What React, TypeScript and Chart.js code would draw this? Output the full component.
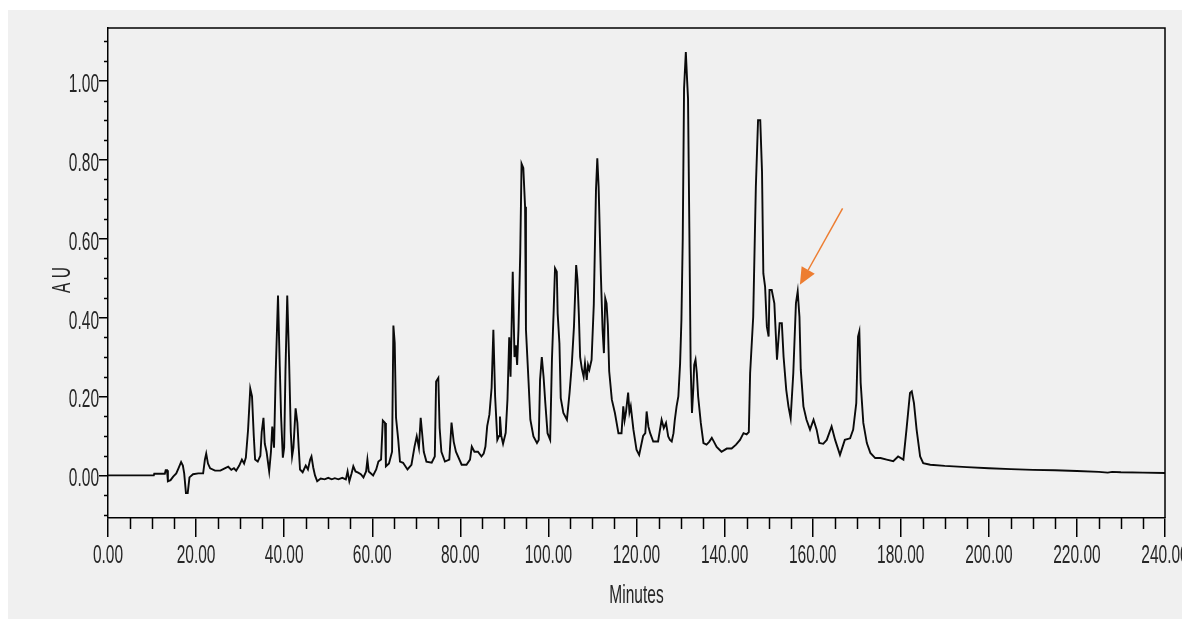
import React, { useEffect, useRef } from "react";
import { Chart, registerables } from "chart.js";

Chart.register(...registerables);

// Retention time (minutes)
const times = [
  0, 10.4, 10.5, 12.9, 13.1, 13.4, 13.6, 14.2, 14.8, 15.5, 16.0, 16.6, 17.0, 17.3, 17.7, 18.1, 18.5, 19.3, 20.5, 21.6,
  22.0, 22.3, 22.7, 23.2, 24.3, 25.5, 26.5, 27.3, 28.0, 28.6, 29.1, 29.8, 30.4, 30.9, 31.3, 31.8, 32.3, 32.7, 33.1, 33.4,
  34.0, 34.6, 34.9, 35.3, 35.6, 36.0, 36.6, 37.0, 37.3, 37.7, 38.1, 38.6, 39.0, 39.3, 39.7, 40.0, 40.3, 40.7, 41.1, 41.5,
  41.8, 42.1, 42.6, 43.0, 43.3, 43.6, 44.2, 44.9, 45.4, 45.9, 46.2, 46.6, 47.0, 47.5, 48.3, 49.2, 50.0, 50.8, 51.5, 52.3,
  53.2, 54.0, 54.4, 54.8, 55.3, 55.7, 56.2, 56.8, 57.4, 58.0, 58.6, 58.9, 59.2, 60.2, 60.9, 61.4, 62.0, 62.4, 62.9, 63.1,
  63.8, 64.5, 64.8, 65.1, 65.4, 65.9, 66.3, 67.0, 68.0, 68.9, 69.6, 70.1, 70.6, 71.0, 71.3, 71.7, 72.3, 73.5, 74.2, 74.5,
  75.0, 75.3, 75.7, 76.5, 77.5, 78.0, 78.5, 79.0, 80.3, 81.4, 82.2, 82.6, 83.2, 84.0, 84.8, 85.3, 85.7, 86.1, 86.6, 87.1,
  87.5, 87.9, 88.4, 88.8, 89.0, 89.3, 89.7, 90.3, 90.7, 91.1, 91.4, 91.9, 92.3, 92.6, 92.9, 93.2, 93.6, 93.9, 94.3, 94.7,
  94.9, 95.5, 95.9, 96.6, 97.4, 97.8, 98.1, 98.5, 98.9, 99.3, 99.8, 100.4, 100.8, 101.2, 101.5, 101.9, 102.1, 102.5, 102.8, 103.4,
  104.2, 104.8, 105.3, 105.8, 106.3, 106.6, 106.9, 107.2, 107.6, 108.0, 108.3, 108.7, 109.0, 109.3, 109.8, 110.3, 110.8, 111.1, 111.4, 111.9,
  112.3, 112.6, 112.9, 113.2, 113.5, 113.8, 114.4, 115.1, 115.9, 116.6, 117.0, 117.3, 117.6, 118.1, 118.4, 118.7, 119.3, 120.0, 120.6, 121.5,
  122.0, 122.3, 122.7, 123.1, 123.8, 124.9, 125.7, 126.2, 126.7, 127.2, 127.6, 128.0, 128.4, 128.7, 129.1, 129.5, 129.9, 130.2, 130.5, 130.8,
  131.2, 131.5, 131.7, 132.0, 132.3, 132.6, 132.9, 133.1, 133.4, 133.7, 134.0, 134.6, 135.2, 135.9, 136.5, 137.1, 137.6, 138.2, 139.3, 140.5,
  141.6, 142.6, 143.5, 144.3, 145.0, 145.5, 145.8, 146.5, 147.1, 147.6, 148.1, 148.5, 148.8, 149.2, 149.6, 150.0, 150.2, 150.7, 151.3, 151.9,
  152.5, 153.0, 153.4, 154.0, 154.5, 155.0, 155.6, 156.2, 156.6, 157.0, 157.3, 157.9, 158.6, 159.4, 160.2, 160.9, 161.5, 162.4, 163.2, 164.3,
  165.1, 166.2, 167.3, 168.5, 169.2, 169.9, 170.3, 170.6, 170.9, 171.5, 172.3, 173.1, 174.2, 175.4, 176.8, 178.3, 179.4, 180.6, 181.3, 182.1,
  182.5, 183.0, 183.6, 184.4, 185.1, 186.7, 190, 195, 200, 205, 210, 215, 220, 225, 227, 228, 230, 235, 240,
];

// Absorbance (AU)
const absorbance = [
  0, 0, 0.004, 0.004, 0.013, 0.013, -0.015, -0.012, -0.003, 0.005, 0.018, 0.034, 0.025, 0.005, -0.045, -0.045, -0.005, 0.003, 0.005, 0.005,
  0.04, 0.055, 0.03, 0.018, 0.012, 0.012, 0.018, 0.022, 0.014, 0.018, 0.012, 0.025, 0.04, 0.03, 0.045, 0.115, 0.22, 0.2, 0.1, 0.04,
  0.035, 0.05, 0.11, 0.146, 0.08, 0.06, 0.01, 0.06, 0.124, 0.07, 0.27, 0.456, 0.276, 0.15, 0.045, 0.07, 0.267, 0.456, 0.3, 0.11,
  0.048, 0.07, 0.17, 0.133, 0.07, 0.015, 0.008, 0.025, 0.015, 0.04, 0.048, 0.02, 0.0, -0.015, -0.008, -0.01, -0.006, -0.01, -0.007, -0.01,
  -0.006, -0.01, 0.01, -0.015, 0.005, 0.023, 0.01, 0.007, 0.003, -0.005, 0.01, 0.04, 0.01, 0.0, 0.015, 0.035, 0.04, 0.139, 0.133, 0.023,
  0.03, 0.06, 0.38, 0.336, 0.146, 0.09, 0.035, 0.032, 0.015, 0.027, 0.073, 0.099, 0.07, 0.146, 0.11, 0.06, 0.035, 0.032, 0.048, 0.238,
  0.247, 0.12, 0.06, 0.035, 0.04, 0.134, 0.085, 0.06, 0.027, 0.027, 0.04, 0.073, 0.06, 0.06, 0.048, 0.055, 0.073, 0.125, 0.154, 0.222,
  0.369, 0.2, 0.09, 0.1, 0.149, 0.1, 0.08, 0.108, 0.192, 0.35, 0.25, 0.516, 0.3, 0.33, 0.28, 0.369, 0.563, 0.79, 0.779, 0.681,
  0.369, 0.235, 0.141, 0.099, 0.082, 0.09, 0.242, 0.3, 0.25, 0.183, 0.107, 0.09, 0.293, 0.42, 0.525, 0.516, 0.41, 0.335, 0.196, 0.158,
  0.141, 0.209, 0.28, 0.377, 0.533, 0.495, 0.41, 0.3, 0.27, 0.25, 0.284, 0.242, 0.28, 0.268, 0.293, 0.432, 0.723, 0.804, 0.732, 0.512,
  0.369, 0.31, 0.449, 0.436, 0.38, 0.264, 0.192, 0.158, 0.107, 0.107, 0.175, 0.14, 0.16, 0.21, 0.16, 0.175, 0.116, 0.065, 0.052, 0.1,
  0.107, 0.162, 0.124, 0.107, 0.086, 0.086, 0.141, 0.12, 0.133, 0.099, 0.09, 0.086, 0.107, 0.141, 0.175, 0.2, 0.284, 0.394, 0.6, 0.981,
  1.073, 1.0, 0.955, 0.626, 0.276, 0.158, 0.22, 0.28, 0.293, 0.259, 0.2, 0.133, 0.082, 0.078, 0.085, 0.095, 0.085, 0.072, 0.06, 0.068,
  0.068, 0.078, 0.09, 0.107, 0.104, 0.11, 0.259, 0.402, 0.732, 0.9, 0.9, 0.77, 0.512, 0.478, 0.377, 0.352, 0.47, 0.47, 0.436, 0.293,
  0.386, 0.386, 0.3, 0.217, 0.175, 0.145, 0.259, 0.436, 0.466, 0.402, 0.268, 0.175, 0.141, 0.116, 0.141, 0.116, 0.082, 0.08, 0.09, 0.124,
  0.09, 0.052, 0.09, 0.094, 0.116, 0.183, 0.352, 0.365, 0.234, 0.133, 0.082, 0.057, 0.044, 0.044, 0.04, 0.036, 0.048, 0.04, 0.116, 0.209,
  0.213, 0.183, 0.116, 0.048, 0.031, 0.027, 0.024, 0.021, 0.018, 0.016, 0.014, 0.013, 0.011, 0.009, 0.007, 0.009, 0.008, 0.007, 0.006,
];

const xMajorTicks = [0, 20, 40, 60, 80, 100, 120, 140, 160, 180, 200, 220, 240];
const yMajorTicks = [0, 0.2, 0.4, 0.6, 0.8, 1.0];
const xTitle = "Minutes";
const yTitle = "A U";
// Annotation arrow (data units): tail -> tip
const arrowFrom = [166.8, 0.677];
const arrowTo = [157.1, 0.483];

const LABEL_FONT = '25px "Liberation Sans", Arial, sans-serif';
const SQUEEZE = 0.62;
const TEXT_COLOR = "#262626";

function condensedText(ctx: CanvasRenderingContext2D, text: string, x: number, y: number, align: CanvasTextAlign, rotate = 0) {
  ctx.save();
  ctx.translate(x, y);
  if (rotate) ctx.rotate(rotate);
  ctx.scale(SQUEEZE, 1);
  ctx.font = LABEL_FONT;
  ctx.fillStyle = TEXT_COLOR;
  ctx.textAlign = align;
  ctx.textBaseline = "alphabetic";
  ctx.fillText(text, 0, 0);
  ctx.restore();
}

const decorPlugin = {
  id: "decor",
  afterDraw(chart: any) {
    const { ctx, chartArea: a, scales } = chart;
    const x = scales.x;
    const y = scales.y;
    ctx.save();
    ctx.strokeStyle = "#000";
    ctx.lineWidth = 1.5;
    // frame top / right
    ctx.beginPath();
    ctx.moveTo(a.left, a.top);
    ctx.lineTo(a.right, a.top);
    ctx.lineTo(a.right, a.bottom);
    ctx.stroke();
    // minor x ticks
    ctx.beginPath();
    for (let v = 5; v < 240; v += 5) {
      if (v % 20 === 0) continue;
      const px = Math.round(x.getPixelForValue(v)) + 0.5;
      ctx.moveTo(px, a.bottom);
      ctx.lineTo(px, a.bottom + 11);
    }
    // minor y ticks
    for (let i = -2; i <= 22; i++) {
      if (i % 4 === 0 && i >= 0 && i <= 20) continue;
      const py = Math.round(y.getPixelForValue(i * 0.05)) + 0.5;
      ctx.moveTo(a.left, py);
      ctx.lineTo(a.left - 4, py);
    }
    ctx.stroke();
    // tick labels
    xMajorTicks.forEach((v) => {
      condensedText(ctx, v.toFixed(2), x.getPixelForValue(v), a.bottom + 45, "center");
    });
    yMajorTicks.forEach((v) => {
      condensedText(ctx, v.toFixed(2), a.left - 9, y.getPixelForValue(v) + 11, "right");
    });
    // axis titles
    condensedText(ctx, xTitle, (a.left + a.right) / 2, a.bottom + 85, "center");
    condensedText(ctx, yTitle, 62, 270, "center", -Math.PI / 2);
    // arrow annotation
    const x0 = x.getPixelForValue(arrowFrom[0]);
    const y0 = y.getPixelForValue(arrowFrom[1]);
    const x1 = x.getPixelForValue(arrowTo[0]);
    const y1 = y.getPixelForValue(arrowTo[1]);
    const ang = Math.atan2(y1 - y0, x1 - x0);
    const headLen = 17;
    const headHalf = 7.5;
    const bx = x1 - headLen * Math.cos(ang);
    const by = y1 - headLen * Math.sin(ang);
    ctx.strokeStyle = "#ED7D31";
    ctx.fillStyle = "#ED7D31";
    ctx.lineWidth = 1.5;
    ctx.beginPath();
    ctx.moveTo(x0, y0);
    ctx.lineTo(bx, by);
    ctx.stroke();
    ctx.beginPath();
    ctx.moveTo(x1, y1);
    ctx.lineTo(bx + headHalf * Math.sin(ang), by - headHalf * Math.cos(ang));
    ctx.lineTo(bx - headHalf * Math.sin(ang), by + headHalf * Math.cos(ang));
    ctx.closePath();
    ctx.fill();
    ctx.restore();
  },
};

export default function App() {
  const canvasRef = useRef<HTMLCanvasElement | null>(null);

  useEffect(() => {
    const canvas = canvasRef.current;
    if (!canvas) return;
    const chart = new Chart(canvas, {
      type: "line",
      data: {
        datasets: [
          {
            data: times.map((t, i) => ({ x: t, y: absorbance[i] })),
            borderColor: "#0a0a0a",
            borderWidth: 1.9,
            pointRadius: 0,
            tension: 0,
            fill: false,
          },
        ],
      },
      options: {
        animation: false,
        responsive: false,
        devicePixelRatio: 1,
        layout: { padding: { left: 0, right: 25, top: 18, bottom: 0 } },
        plugins: { legend: { display: false }, tooltip: { enabled: false } },
        scales: {
          x: {
            type: "linear",
            min: 0,
            max: 240,
            afterBuildTicks: (s: any) => {
              s.ticks = xMajorTicks.map((v) => ({ value: v }));
            },
            afterFit: (s: any) => {
              s.height = 101;
            },
            ticks: { display: false },
            grid: { drawOnChartArea: false, drawTicks: true, tickLength: 19, color: "#000", lineWidth: 1.5 },
            border: { display: true, color: "#000", width: 1.5 },
          },
          y: {
            type: "linear",
            min: -0.108,
            max: 1.134,
            afterBuildTicks: (s: any) => {
              s.ticks = yMajorTicks.map((v) => ({ value: v }));
            },
            afterFit: (s: any) => {
              s.width = 100;
            },
            ticks: { display: false },
            grid: { drawOnChartArea: false, drawTicks: true, tickLength: 9, color: "#000", lineWidth: 1.5 },
            border: { display: true, color: "#000", width: 1.5 },
          },
        },
      },
      plugins: [decorPlugin],
    });
    return () => chart.destroy();
  }, []);

  return (
    <div style={{ paddingTop: 2 }}>
      <div style={{ width: 1182, height: 609, background: "#f0f0f0" }}>
        <canvas ref={canvasRef} width={1182} height={609} style={{ display: "block", width: 1182, height: 609 }} />
      </div>
    </div>
  );
}
